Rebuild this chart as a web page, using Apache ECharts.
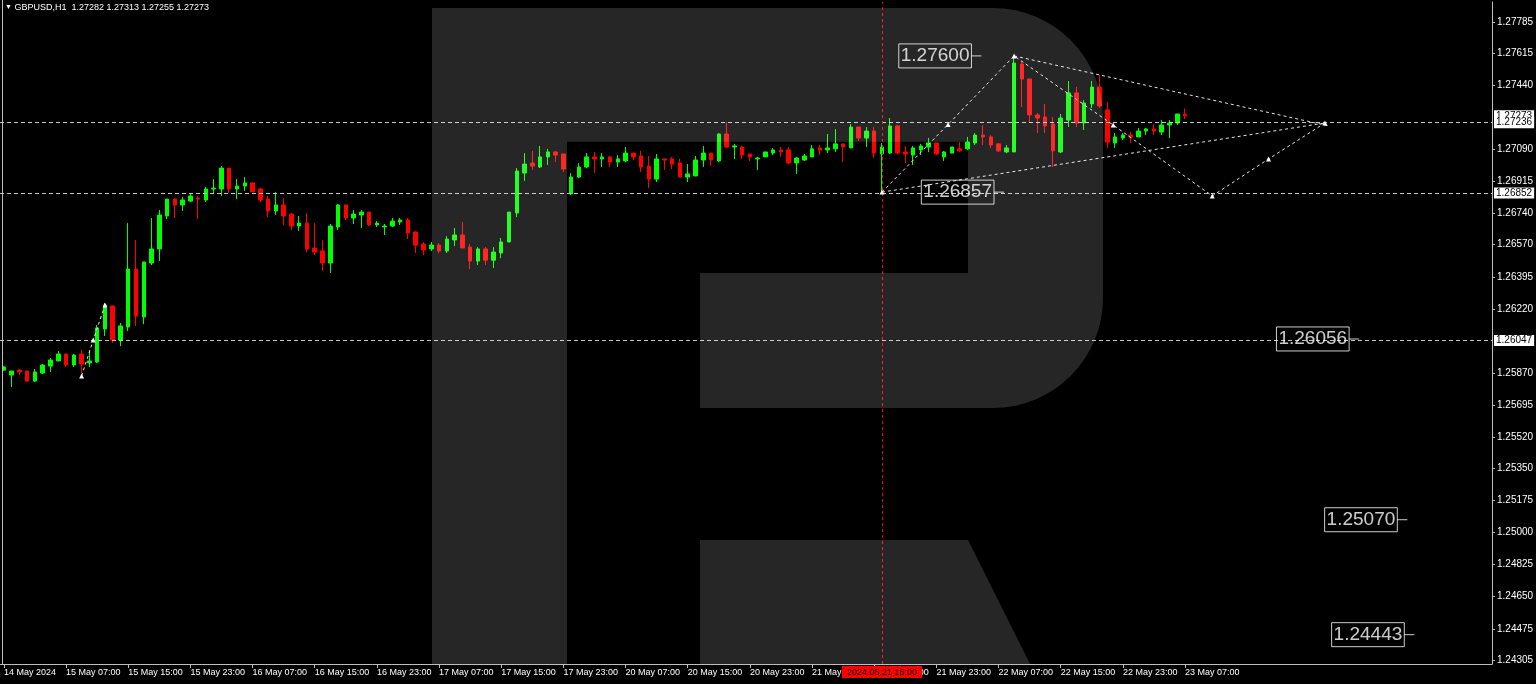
<!DOCTYPE html>
<html>
<head>
<meta charset="utf-8">
<script src="https://cdn.jsdelivr.net/npm/echarts@6/dist/echarts.min.js"></script>
<style>
html,body{margin:0;padding:0;background:#000;overflow:hidden;}
#c{width:1536px;height:684px;}
</style>
</head>
<body>
<div id="c"></div>
<script>
// ---------------- data ----------------
const symbolName = 'GBPUSD,H1';
const slotCount = 192; // 153 hourly bars + empty future space
const xTickLabels = ['14 May 2024','15 May 07:00','15 May 15:00','15 May 23:00','16 May 07:00','16 May 15:00','16 May 23:00','17 May 07:00','17 May 15:00','17 May 23:00','20 May 07:00','20 May 15:00','20 May 23:00','21 May 07:00','21 May 15:00','21 May 23:00','22 May 07:00','22 May 15:00','22 May 23:00','23 May 07:00'];
const yTickValues = [1.24305,1.24475,1.24650,1.24825,1.25000,1.25175,1.25350,1.25520,1.25695,1.25870,1.26220,1.26395,1.26570,1.26740,1.26915,1.27090,1.27440,1.27615,1.27785];

const opens = [1.25886,1.25859,1.25886,1.25881,1.25826,1.25870,1.25908,1.25936,1.25974,1.25914,1.25974,1.25925,1.25930,1.26110,1.26236,1.26050,1.26121,1.26437,1.26176,1.26470,1.26547,1.26727,1.26819,1.26787,1.26808,1.26825,1.26814,1.26874,1.26874,1.26988,1.26874,1.26890,1.26907,1.26874,1.26819,1.26754,1.26787,1.26737,1.26672,1.26688,1.26552,1.26536,1.26470,1.26667,1.26787,1.26716,1.26732,1.26748,1.26678,1.26667,1.26672,1.26694,1.26705,1.26639,1.26574,1.26547,1.26568,1.26536,1.26596,1.26623,1.26557,1.26481,1.26547,1.26486,1.26525,1.26585,1.26743,1.26961,1.27016,1.26994,1.27049,1.27076,1.27065,1.26847,1.26939,1.26994,1.27049,1.27038,1.27049,1.27021,1.27027,1.27070,1.27054,1.26999,1.26928,1.27038,1.27038,1.27016,1.26939,1.26945,1.27032,1.27070,1.27027,1.27174,1.27103,1.27103,1.27065,1.27038,1.27049,1.27070,1.27087,1.27087,1.27016,1.27032,1.27049,1.27098,1.27087,1.27093,1.27120,1.27098,1.27212,1.27152,1.27190,1.27065,1.27070,1.27218,1.27076,1.27059,1.27087,1.27103,1.27125,1.27049,1.27070,1.27093,1.27093,1.27125,1.27168,1.27158,1.27120,1.27076,1.27076,1.27556,1.27474,1.27278,1.27267,1.27228,1.27076,1.27250,1.27398,1.27234,1.27338,1.27430,1.27305,1.27125,1.27152,1.27168,1.27158,1.27190,1.27201,1.27185,1.27223,1.27234,1.27282];
const highs = [1.25908,1.25881,1.25892,1.25881,1.25892,1.25919,1.25952,1.25990,1.25974,1.25974,1.25995,1.25995,1.26132,1.26252,1.26236,1.26143,1.26688,1.26596,1.26476,1.26716,1.26759,1.26819,1.26825,1.26830,1.26847,1.26836,1.26885,1.26928,1.26999,1.26988,1.26928,1.26939,1.26912,1.26879,1.26836,1.26858,1.26825,1.26743,1.26727,1.26743,1.26688,1.26596,1.26683,1.26792,1.26787,1.26759,1.26759,1.26748,1.26699,1.26683,1.26716,1.26716,1.26716,1.26645,1.26585,1.26585,1.26579,1.26617,1.26661,1.26694,1.26574,1.26557,1.26557,1.26557,1.26607,1.26748,1.26988,1.27070,1.27082,1.27109,1.27093,1.27082,1.27065,1.26961,1.27016,1.27070,1.27076,1.27070,1.27054,1.27059,1.27103,1.27070,1.27082,1.27054,1.27065,1.27038,1.27049,1.27038,1.27010,1.27054,1.27109,1.27070,1.27179,1.27239,1.27120,1.27109,1.27065,1.27049,1.27076,1.27098,1.27103,1.27103,1.27049,1.27065,1.27114,1.27114,1.27174,1.27201,1.27120,1.27228,1.27212,1.27212,1.27212,1.27125,1.27261,1.27223,1.27109,1.27109,1.27120,1.27152,1.27125,1.27082,1.27103,1.27130,1.27158,1.27179,1.27223,1.27168,1.27125,1.27114,1.27600,1.27567,1.27474,1.27289,1.27338,1.27267,1.27283,1.27463,1.27430,1.27359,1.27463,1.27496,1.27349,1.27179,1.27179,1.27185,1.27207,1.27207,1.27228,1.27250,1.27250,1.27283,1.27313];
const lows = [1.25881,1.25794,1.25859,1.25821,1.25821,1.25865,1.25876,1.25936,1.25903,1.25903,1.25870,1.25903,1.25925,1.26072,1.26034,1.26017,1.26099,1.26127,1.26137,1.26459,1.26481,1.26710,1.26716,1.26754,1.26803,1.26710,1.26803,1.26852,1.26836,1.26852,1.26819,1.26863,1.26858,1.26803,1.26721,1.26732,1.26678,1.26650,1.26645,1.26530,1.26514,1.26427,1.26416,1.26650,1.26705,1.26683,1.26661,1.26672,1.26667,1.26623,1.26667,1.26678,1.26601,1.26525,1.26514,1.26536,1.26525,1.26525,1.26563,1.26552,1.26437,1.26459,1.26459,1.26443,1.26497,1.26585,1.26721,1.26918,1.26978,1.26988,1.27005,1.27021,1.26967,1.26841,1.26934,1.26988,1.26961,1.26994,1.26994,1.26994,1.27021,1.27032,1.26967,1.26879,1.26912,1.26978,1.26983,1.26939,1.26912,1.26945,1.26994,1.26999,1.27021,1.27098,1.27038,1.27038,1.27027,1.26978,1.27049,1.27059,1.27049,1.27010,1.26956,1.27027,1.27049,1.27059,1.27070,1.27076,1.27021,1.27098,1.27136,1.27103,1.27043,1.26857,1.27065,1.27065,1.27016,1.27005,1.27059,1.27076,1.27059,1.27027,1.27070,1.27076,1.27087,1.27114,1.27114,1.27098,1.27076,1.27070,1.27076,1.27321,1.27239,1.27179,1.27179,1.26994,1.27070,1.27212,1.27212,1.27196,1.27316,1.27316,1.27098,1.27098,1.27141,1.27125,1.27158,1.27168,1.27168,1.27168,1.27152,1.27223,1.27255];
const closes = [1.25903,1.25881,1.25876,1.25826,1.25876,1.25914,1.25941,1.25974,1.25914,1.25968,1.25919,1.25936,1.26116,1.26241,1.26050,1.26127,1.26437,1.26181,1.26476,1.26547,1.26732,1.26819,1.26787,1.26814,1.26836,1.26819,1.26874,1.26879,1.26988,1.26874,1.26890,1.26907,1.26858,1.26814,1.26754,1.26787,1.26727,1.26672,1.26688,1.26547,1.26530,1.26470,1.26672,1.26787,1.26716,1.26737,1.26748,1.26678,1.26688,1.26672,1.26699,1.26705,1.26634,1.26568,1.26541,1.26568,1.26536,1.26601,1.26623,1.26552,1.26481,1.26547,1.26486,1.26530,1.26585,1.26748,1.26972,1.27010,1.26999,1.27049,1.27076,1.27059,1.26983,1.26939,1.26994,1.27049,1.27038,1.27049,1.27021,1.27038,1.27070,1.27049,1.26994,1.26928,1.27038,1.27032,1.27010,1.26939,1.26956,1.27032,1.27070,1.27032,1.27174,1.27103,1.27109,1.27059,1.27049,1.27043,1.27076,1.27087,1.27076,1.27016,1.27043,1.27054,1.27093,1.27087,1.27098,1.27120,1.27103,1.27212,1.27152,1.27190,1.27070,1.27103,1.27218,1.27070,1.27065,1.27098,1.27109,1.27125,1.27065,1.27076,1.27103,1.27082,1.27130,1.27168,1.27158,1.27114,1.27082,1.27098,1.27561,1.27474,1.27278,1.27261,1.27218,1.27082,1.27261,1.27398,1.27234,1.27343,1.27430,1.27327,1.27130,1.27158,1.27168,1.27158,1.27190,1.27201,1.27190,1.27223,1.27234,1.27283,1.27273];

const levelLines = [1.27236, 1.26852, 1.26047];
const bidPrice = 1.27273;
const crossIndex = 113;
const crossTime = '2024.05.21 16:00';

// drawn analysis (bar index, price)
const waveLeft = [[10,1.25854],[11.5,1.26050],[13,1.26241]];
const waveMain = [[113,1.26857],[121.5,1.27226],[130,1.27600],[142.75,1.27223],[155.5,1.26836],[162.75,1.27038],[170,1.27234]];
const triUpper = [[130,1.27600],[170.5,1.27218]];
const triLower = [[113,1.26857],[170,1.27234]];
const targetLabels = [[125.8,1.27600],[128.7,1.26857],[174.4,1.26056],[180.6,1.25070],[181.5,1.24443]];

// ---------------- chart ----------------
const FONT = 'Liberation Sans, Arial, sans-serif';
const last = opens.length - 1;
const candles = opens.map((o, i) => [o, closes[i], lows[i], highs[i]]);
const cats = Array.from({length: slotCount}, (_, i) => String(i));
const isTick = (idx) => idx % 8 === 0 && idx / 8 < xTickLabels.length;

const dotted = {color: '#e6e6e6', width: 1, type: [3, 3]};

// watermark outline helper (decoration only)
function arcPts(cx, cy, r, a0, a1, n) {
  const pts = [];
  for (let k = 0; k <= n; k++) {
    const a = (a0 + (a1 - a0) * k / n) * Math.PI / 180;
    pts.push([cx + r * Math.cos(a), cy + r * Math.sin(a)]);
  }
  return pts;
}
const logoMain = [[432, 8]]
  .concat(arcPts(993, 118, 110, -90, 0, 16))
  .concat(arcPts(993, 298, 110, 0, 90, 16))
  .concat([[700, 408], [700, 273], [968, 273], [968, 141.7], [567, 141.7], [567, 664], [432, 664]]);
const logoLeg = [[700, 540], [968, 540], [1030, 664], [700, 664]];

const chart = echarts.init(document.getElementById('c'), null, {renderer: 'canvas'});
chart.setOption({
  backgroundColor: '#000000',
  animation: false,
  title: {
    left: 5, top: 3, padding: 0,
    text: '{t|▼} ' + symbolName + '  ' + [opens[last], highs[last], lows[last], closes[last]].map(v => v.toFixed(5)).join(' '),
    textStyle: {color: '#ffffff', fontSize: 9, fontWeight: 'normal', fontFamily: FONT,
      rich: {t: {fontSize: 7, color: '#ffffff'}}}
  },
  grid: {left: 0, right: 44, top: 2, bottom: 20, containLabel: false, outerBoundsMode: 'none'},
  xAxis: [{
    type: 'category', data: cats, boundaryGap: true,
    axisLine: {show: true, onZero: false, lineStyle: {color: '#bfbfbf', width: 1}},
    axisTick: {show: true, alignWithLabel: true, interval: isTick, length: 4, lineStyle: {color: '#bfbfbf'}},
    axisLabel: {show: true, interval: isTick, align: 'left', margin: 4, color: '#ffffff', fontSize: 9, fontFamily: FONT,
      formatter: (v) => xTickLabels[Number(v) / 8] || ''},
    splitLine: {show: false}
  }, {
    type: 'value', min: -0.5, max: slotCount - 0.5, show: false,
    axisLine: {show: false, onZero: false}, axisTick: {show: false}, axisLabel: {show: false}, splitLine: {show: false}
  }],
  yAxis: [{
    type: 'value', position: 'right', min: 1.24283, max: 1.27894, scale: true,
    axisLine: {show: true, onZero: false, lineStyle: {color: '#bfbfbf', width: 1}},
    axisTick: {show: true, customValues: yTickValues, length: 3, lineStyle: {color: '#bfbfbf'}},
    axisLabel: {show: true, customValues: yTickValues, margin: 5, color: '#ffffff', fontSize: 10, fontFamily: FONT,
      formatter: (v) => v.toFixed(5)},
    splitLine: {show: false}
  }],
  series: [{
    type: 'candlestick', xAxisIndex: 0, yAxisIndex: 0, data: candles,
    barWidth: 4, z: 3,
    itemStyle: {color: '#00ff00', color0: '#ff0000', borderColor: '#00ff00', borderColor0: '#ff0000', borderWidth: 1},
    emphasis: {disabled: true},
    markLine: {
      silent: true, symbol: 'none', animation: false, precision: 5,
      lineStyle: {color: '#c8c8c8', width: 1, type: [4, 3]},
      label: {show: true, position: 'end', distance: 2, backgroundColor: '#ffffff', color: '#000000',
        fontSize: 10, fontFamily: FONT, padding: [1, 2, 0, 2], formatter: (p) => Number(p.value).toFixed(5)},
      data: [{yAxis: bidPrice, lineStyle: {color: 'rgba(0,0,0,0)'}}].concat(levelLines.map(v => ({yAxis: v})))
    }
  }, {
    type: 'line', xAxisIndex: 1, yAxisIndex: 0, data: waveLeft, z: 5,
    lineStyle: dotted, symbol: 'triangle', symbolSize: 5, itemStyle: {color: '#ffffff'}, emphasis: {disabled: true}
  }, {
    type: 'line', xAxisIndex: 1, yAxisIndex: 0, data: waveMain, z: 5,
    lineStyle: dotted, symbol: 'triangle', symbolSize: 5, itemStyle: {color: '#ffffff'}, emphasis: {disabled: true}
  }, {
    type: 'line', xAxisIndex: 1, yAxisIndex: 0, data: triUpper, z: 5,
    lineStyle: dotted, symbol: 'none', emphasis: {disabled: true}
  }, {
    type: 'line', xAxisIndex: 1, yAxisIndex: 0, data: triLower, z: 5,
    lineStyle: dotted, symbol: 'none', emphasis: {disabled: true},
    markLine: {
      silent: true, symbol: 'none', animation: false, precision: 3,
      lineStyle: {color: '#ff0000', width: 1, type: [3, 3]},
      label: {show: true, position: 'start', distance: 2, backgroundColor: '#ff0000', color: '#000000',
        fontSize: 9, fontFamily: FONT, padding: [2, 5, 1, 5], formatter: () => crossTime},
      data: [{xAxis: crossIndex}]
    }
  }, {
    type: 'scatter', xAxisIndex: 1, yAxisIndex: 0, data: targetLabels, z: 6,
    symbol: 'rect', symbolSize: [10, 1], symbolOffset: [-5, 0], itemStyle: {color: '#ffffff'},
    emphasis: {disabled: true},
    label: {show: true, position: 'left', distance: 0, color: '#ffffff', fontSize: 19, fontFamily: FONT,
      borderColor: '#ffffff', borderWidth: 1, padding: [3, 2, 2, 2],
      formatter: (p) => p.value[1].toFixed(5)}
  }],
  graphic: [{
    type: 'polygon', silent: true, z: 100,
    shape: {points: logoMain},
    style: {fill: 'rgba(255,255,255,0.15)'}
  }, {
    type: 'polygon', silent: true, z: 100,
    shape: {points: logoLeg},
    style: {fill: 'rgba(255,255,255,0.15)'}
  }, {
    type: 'line', silent: true, z: 10,
    shape: {x1: 2.5, y1: 0, x2: 2.5, y2: 664},
    style: {stroke: '#bfbfbf', lineWidth: 1}
  }]
});
</script>
</body>
</html>
